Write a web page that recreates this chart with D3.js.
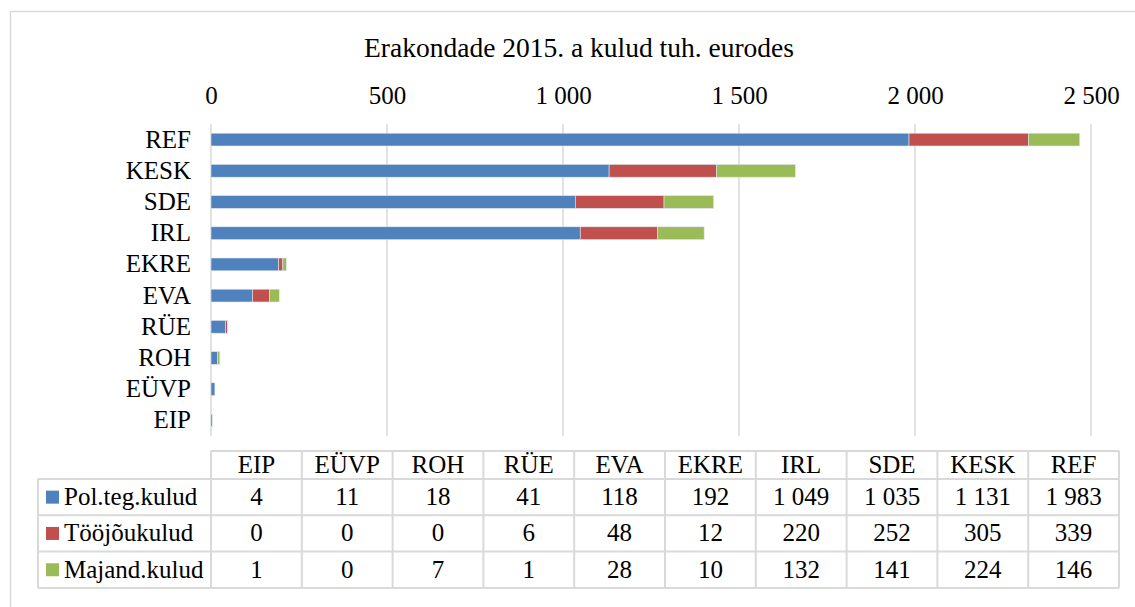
<!DOCTYPE html>
<html>
<head>
<meta charset="utf-8">
<script src="https://cdn.jsdelivr.net/npm/d3@7"></script>
<style>
  body { margin: 0; background: #fff; }
  svg text { font-family: "Liberation Serif", "Times New Roman", Times, serif !important; fill: #000; }
</style>
</head>
<body>
<div id="chart"></div>
<script>
// data, table order (left to right)
const parties = ["EIP", "EÜVP", "ROH", "RÜE", "EVA", "EKRE", "IRL", "SDE", "KESK", "REF"];
const polTeg = [4, 11, 18, 41, 118, 192, 1049, 1035, 1131, 1983];
const tooJou = [0, 0, 0, 6, 48, 12, 220, 252, 305, 339];
const majand = [1, 0, 7, 1, 28, 10, 132, 141, 224, 146];
const seriesNames = ["Pol.teg.kulud", "Tööjõukulud", "Majand.kulud"];
const xTicks = [0, 500, 1000, 1500, 2000, 2500];
const title = "Erakondade 2015. a kulud tuh. eurodes";

const colors = ["#4f81bd", "#c0504d", "#9bbb59"];
const gridColor = "#d9d9d9";
const serif = "'Liberation Serif', 'Times New Roman', Times, serif";
const labelSize = "25px";

const W = 1135, H = 607;
const plot = {left: 211, right: 1091, top: 124, bottom: 436};

const fmt = d3.formatLocale({decimal: ",", thousands: "\u00a0", grouping: [3], currency: ["", ""]}).format(",d");

const svg = d3.select("#chart").append("svg")
    .attr("width", W)
    .attr("height", H)
    .attr("font-family", serif);

// outer border
svg.append("rect")
    .attr("x", 10.5).attr("y", 11.5)
    .attr("width", W).attr("height", H)
    .attr("fill", "#fff")
    .attr("stroke", gridColor)
    .attr("stroke-width", 1.5);

// title
svg.append("text")
    .attr("x", 579).attr("y", 57)
    .attr("text-anchor", "middle")
    .style("font-size", "27.5px")
    .text(title);

// scales
const x = d3.scaleLinear().domain([0, 2500]).range([plot.left, plot.right]);
const y = d3.scaleBand()
    .domain(parties.slice().reverse())
    .range([plot.top, plot.bottom])
    .paddingInner(0.59)
    .paddingOuter(0.295);

// gridlines
svg.append("g")
    .selectAll("line")
    .data(xTicks)
    .join("line")
    .attr("x1", d => x(d)).attr("x2", d => x(d))
    .attr("y1", plot.top).attr("y2", plot.bottom)
    .attr("stroke", gridColor)
    .attr("stroke-width", 1.5);

// top axis labels
const xAxis = svg.append("g")
    .attr("transform", `translate(0, ${plot.top - 20})`)
    .call(d3.axisTop(x).tickValues(xTicks).tickFormat(fmt).tickSize(0).tickPadding(0));
xAxis.attr("font-family", serif).attr("font-size", null);
xAxis.select(".domain").remove();
xAxis.selectAll("text")
    .style("font-size", labelSize)
    .style("font-family", serif)
    .attr("fill", "#000");

// category labels
const yAxis = svg.append("g")
    .attr("transform", `translate(${plot.left - 20}, 0)`)
    .call(d3.axisLeft(y).tickSize(0).tickPadding(0));
yAxis.attr("font-family", serif).attr("font-size", null);
yAxis.select(".domain").remove();
yAxis.selectAll("text")
    .style("font-size", labelSize)
    .style("font-family", serif)
    .attr("fill", "#000");

// stacked bars
const rows = parties.map((p, i) => ({party: p, s0: polTeg[i], s1: tooJou[i], s2: majand[i]}));
const stack = d3.stack().keys(["s0", "s1", "s2"]);
const layers = stack(rows);

svg.append("g")
    .selectAll("g")
    .data(layers)
    .join("g")
    .attr("fill", (d, i) => colors[i])
    .selectAll("rect")
    .data(d => d)
    .join("rect")
    .attr("x", d => x(d[0]))
    .attr("y", d => y(d.data.party))
    .attr("width", d => x(d[1]) - x(d[0]))
    .attr("height", y.bandwidth())
    .attr("stroke", d => (d[1] - d[0]) > 0 ? "#dfe6f0" : "none")
    .attr("stroke-width", 0.6);

// data table
const tbl = {left: 38, colLeft: 211, right: 1119, top: 451, headBottom: 479, rowH: 36.3};
const col = d3.scaleBand().domain(parties).range([tbl.colLeft, tbl.right]);
const seriesValues = [polTeg, tooJou, majand];
const tg = svg.append("g");
const tableBottom = tbl.headBottom + tbl.rowH * 3;

// horizontal lines
tg.append("line")
    .attr("x1", tbl.colLeft).attr("x2", tbl.right)
    .attr("y1", tbl.top).attr("y2", tbl.top);
[0, 1, 2, 3].forEach(r => {
  const yy = tbl.headBottom + r * tbl.rowH;
  tg.append("line")
      .attr("x1", tbl.left).attr("x2", tbl.right)
      .attr("y1", yy).attr("y2", yy);
});
// vertical lines
tg.append("line")
    .attr("x1", tbl.left).attr("x2", tbl.left)
    .attr("y1", tbl.headBottom).attr("y2", tableBottom);
parties.forEach(p => {
  tg.append("line")
      .attr("x1", col(p)).attr("x2", col(p))
      .attr("y1", tbl.top).attr("y2", tableBottom);
});
tg.append("line")
    .attr("x1", tbl.right).attr("x2", tbl.right)
    .attr("y1", tbl.top).attr("y2", tableBottom);
tg.selectAll("line")
    .attr("stroke", gridColor)
    .attr("stroke-width", 2);

// header
tg.selectAll("text.head")
    .data(parties)
    .join("text")
    .attr("class", "head")
    .attr("x", d => col(d) + col.bandwidth() / 2)
    .attr("y", (tbl.top + tbl.headBottom) / 2 + 8)
    .attr("text-anchor", "middle")
    .style("font-size", labelSize)
    .text(d => d);

// series rows
seriesNames.forEach((name, r) => {
  const cy = tbl.headBottom + r * tbl.rowH + tbl.rowH / 2;
  tg.append("rect")
      .attr("x", 46).attr("y", cy - 6.5)
      .attr("width", 13).attr("height", 13)
      .attr("fill", colors[r]);
  tg.append("text")
      .attr("x", 64).attr("y", cy + 8)
      .style("font-size", labelSize)
      .text(name);
  tg.selectAll(null)
      .data(seriesValues[r])
      .join("text")
      .attr("x", (d, i) => col(parties[i]) + col.bandwidth() / 2)
      .attr("y", cy + 8)
      .attr("text-anchor", "middle")
      .style("font-size", labelSize)
      .text(d => fmt(d));
});
</script>
</body>
</html>
